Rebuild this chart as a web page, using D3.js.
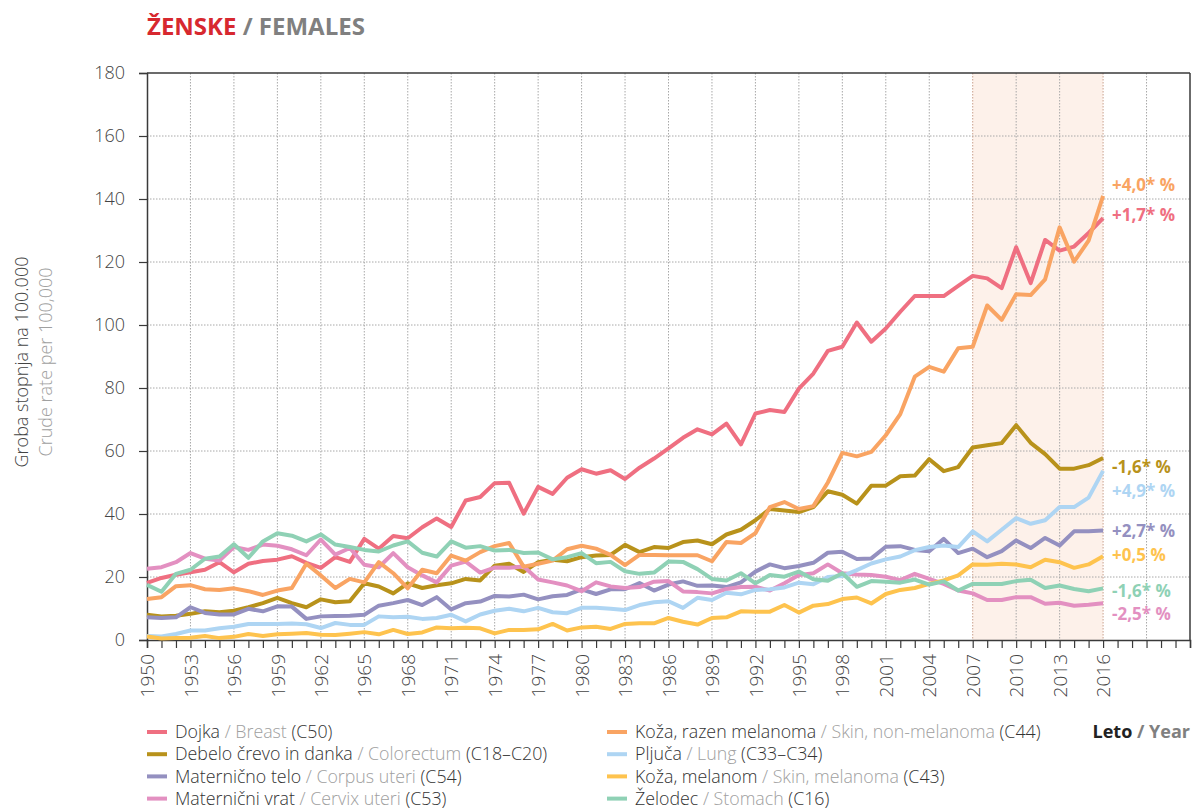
<!DOCTYPE html>
<html><head><meta charset="utf-8">
<script src="https://cdn.jsdelivr.net/npm/d3@7"></script>
<style>
body{margin:0;background:#fff;}
svg{display:block;font-family:"Open Sans","DejaVu Sans",sans-serif;}
</style></head><body>
<svg id="chart" width="1192" height="812"></svg>
<script>
// ---------------- DATA ----------------
const years = d3.range(1950, 2017);          // 1950 … 2016
const axisYears = d3.range(1950, 2023);       // tick positions on the x axis
const yearLabels = d3.range(1950, 2017, 3);   // labelled years
const yTicks = [0, 20, 40, 60, 80, 100, 120, 140, 160, 180];
const shadeFrom = 2007, shadeTo = 2016;

const breast = [18.1,19.7,20.7,21.5,22.3,24.7,21.5,24.2,25.1,25.5,26.6,24.5,22.9,26.3,24.8,32.1,29.0,33.0,32.3,35.8,38.6,35.9,44.3,45.4,49.8,
  49.9,40.1,48.6,46.4,51.5,54.2,52.8,53.9,51.1,54.7,57.6,60.8,64.2,66.9,65.3,68.7,62.1,71.9,73.0,72.4,79.8,84.6,
  91.8,93.1,100.8,94.7,98.9,104.2,109.2,109.2,109.2,112.4,115.6,114.8,111.7,124.7,113.3,127.0,123.6,124.9,129.2,133.9];
const colorectum = [8.0,7.5,7.7,8.3,9.1,8.8,9.3,10.4,11.7,13.4,11.7,10.4,12.9,12.0,12.3,18.0,17.0,14.8,18.0,16.5,17.4,18.0,19.4,18.9,23.6,
  24.2,21.6,24.7,25.5,25.0,26.3,26.8,27.0,30.2,27.9,29.5,29.2,31.1,31.6,30.4,33.5,35.0,38.0,41.6,41.1,40.6,42.2,
  47.2,46.1,43.3,49.0,49.0,52.0,52.2,57.4,53.6,54.9,61.1,61.8,62.5,68.2,62.6,59.0,54.4,54.4,55.5,57.8];
const corpus = [7.2,7.0,7.2,10.4,8.6,8.1,8.1,9.9,9.1,10.7,10.6,6.7,7.5,7.6,7.7,8.0,10.9,11.7,12.7,11.1,13.6,9.7,11.7,12.2,14.0,
  13.8,14.4,12.9,13.9,14.3,16.1,14.6,16.1,16.1,18.1,15.7,17.6,18.6,17.2,17.3,16.8,18.3,21.7,24.0,22.8,23.5,24.5,
  27.7,28.0,25.7,25.9,29.6,29.8,28.6,28.2,32.1,27.6,29.0,26.3,28.2,31.6,29.2,32.4,30.0,34.5,34.5,34.8];
const cervix = [22.6,23.1,24.7,27.6,25.8,25.2,29.5,28.6,30.3,29.9,28.8,26.9,31.9,27.1,29.2,23.9,23.1,27.6,23.1,20.5,18.3,23.6,24.9,21.4,23.0,
  22.9,23.3,19.2,18.3,17.3,15.5,18.3,17.0,16.5,16.8,18.5,18.7,15.4,15.2,14.8,16.2,16.8,16.9,15.7,18.0,20.6,21.2,
  24.0,21.2,20.8,20.6,20.1,19.0,21.0,19.4,17.8,15.7,14.8,12.7,12.7,13.6,13.6,11.5,11.8,10.9,11.2,11.7];
const skinNonMel = [13.0,13.6,17.1,17.4,16.1,15.9,16.4,15.5,14.3,15.7,16.5,24.2,20.5,16.5,19.4,18.3,24.7,21.2,16.4,22.3,21.2,26.8,25.2,27.9,29.8,
  30.8,23.3,24.2,25.2,28.8,29.9,29.0,27.0,23.8,27.0,27.0,26.9,26.9,26.9,25.0,31.1,30.8,33.9,42.2,43.8,41.6,42.5,
  50.0,59.4,58.3,59.7,65.0,71.7,83.6,86.7,85.2,92.6,93.1,106.2,101.6,109.8,109.5,114.5,131.0,120.1,126.8,141.0];
const lung = [1.3,1.1,1.9,3.0,3.0,3.7,4.2,5.1,5.1,5.1,5.2,5.0,3.8,5.4,4.8,4.8,7.5,7.2,7.4,6.7,7.0,8.0,5.9,8.1,9.3,
  9.9,9.1,10.2,8.8,8.5,10.2,10.2,9.9,9.5,11.1,12.0,12.3,10.2,13.4,12.7,15.0,14.5,15.9,16.1,16.7,18.2,17.7,
  20.0,20.3,22.2,24.3,25.6,26.5,28.5,29.5,30.0,29.5,34.5,31.3,35.0,38.7,36.9,38.0,42.2,42.2,45.2,53.7];
const melanoma = [1.1,0.5,0.6,0.7,1.3,0.6,1.0,1.9,1.3,1.8,2.0,2.2,1.7,1.6,2.0,2.5,1.8,3.2,1.9,2.4,4.0,3.7,3.9,3.7,2.1,
  3.2,3.2,3.4,5.1,3.0,4.0,4.2,3.5,5.1,5.3,5.3,7.0,5.8,4.9,7.0,7.2,9.1,9.0,9.0,11.1,8.7,10.9,
  11.4,13.0,13.5,11.6,14.6,15.9,16.5,17.8,18.9,20.5,24.0,23.9,24.2,24.0,23.1,25.5,24.7,22.9,24.0,26.6];
const stomach = [17.5,15.3,21.0,22.3,25.8,26.5,30.4,26.1,31.3,33.9,33.1,31.3,33.5,30.3,29.5,28.6,28.1,30.0,31.3,27.7,26.5,31.3,29.3,29.8,28.4,
  28.6,27.6,27.8,25.6,26.3,27.6,24.4,24.8,21.8,21.0,21.4,24.9,24.8,22.5,19.4,18.9,21.2,18.0,20.6,20.1,21.7,19.3,
  18.8,21.2,16.9,18.7,18.5,18.2,19.2,17.6,18.6,15.7,17.8,17.8,17.8,18.7,19.1,16.5,17.3,16.2,15.5,16.4];

const names_sl = ["Dojka","Debelo črevo in danka","Maternično telo","Maternični vrat",
                  "Koža, razen melanoma","Pljuča","Koža, melanom","Želodec"];
const names_en = ["Breast","Colorectum","Corpus uteri","Cervix uteri",
                  "Skin, non-melanoma","Lung","Skin, melanoma","Stomach"];
const codes = ["(C50)","(C18–C20)","(C54)","(C53)","(C44)","(C33–C34)","(C43)","(C16)"];
const trends = ["+1,7* %","-1,6* %","+2,7* %","-2,5* %","+4,0* %","+4,9* %","+0,5 %","-1,6* %"];
const values = [breast, colorectum, corpus, cervix, skinNonMel, lung, melanoma, stomach];

// ---------------- STYLE / LAYOUT ----------------
const colors = ["#ef6f81","#b8921b","#9490c0","#e390c1","#f9a463","#aed5f3","#fec34e","#8fd1b5"];
const trendLabelY = [215, 467, 531, 614, 185, 491, 555, 591];  // pixel centres of the trend labels

const svg = d3.select("#chart");
const x = d3.scaleLinear().domain([1950, 2022]).range([147, 1190]);
const y = d3.scaleLinear().domain([0, 180]).range([640, 73]);
const FONT_LIGHT = 300;

// shaded period
svg.append("rect")
  .attr("x", x(shadeFrom)).attr("y", y(180))
  .attr("width", x(shadeTo) - x(shadeFrom)).attr("height", y(0) - y(180))
  .attr("fill", "#fdf1ea");

// horizontal grid
svg.append("g").selectAll("line").data(yTicks.filter(d => d > 0 && d < 180)).join("line")
  .attr("x1", x(1950)).attr("x2", x(2022))
  .attr("y1", d => y(d)).attr("y2", d => y(d))
  .attr("stroke", "#a8a8a8").attr("stroke-width", 1).attr("stroke-dasharray", "1.5,1.5");

// vertical grid
svg.append("g").selectAll("line").data(d3.range(1953, 2022, 3)).join("line")
  .attr("x1", d => x(d)).attr("x2", d => x(d))
  .attr("y1", y(180)).attr("y2", y(0))
  .attr("stroke", d => (d === shadeFrom || d === shadeTo) ? "#c9a08c" : "#a8a8a8")
  .attr("stroke-width", 1).attr("stroke-dasharray", "1.5,1.5");

// frame (top + right)
svg.append("line").attr("x1", x(1950)).attr("x2", x(2022)).attr("y1", y(180)).attr("y2", y(180))
  .attr("stroke", "#3a3a3a").attr("stroke-width", 1.5);
svg.append("line").attr("x1", x(2022)).attr("x2", x(2022)).attr("y1", y(180)).attr("y2", y(0))
  .attr("stroke", "#3a3a3a").attr("stroke-width", 1.5);

// y axis
const yAxis = svg.append("g").attr("transform", `translate(${x(1950)},0)`)
  .call(d3.axisLeft(y).tickValues(yTicks).tickSize(8).tickPadding(14).tickFormat(d3.format("d")));
yAxis.select(".domain").attr("stroke", "#3a3a3a").attr("stroke-width", 1.5);
yAxis.selectAll(".tick line").attr("stroke", "#3a3a3a").attr("stroke-width", 1.2);
yAxis.selectAll(".tick text").attr("font-size", 18).attr("fill", "#444")
  .attr("font-family", '"Open Sans",sans-serif').attr("font-weight", FONT_LIGHT);

// x axis
const xAxis = svg.append("g").attr("transform", `translate(0,${y(0)})`)
  .call(d3.axisBottom(x).tickValues(axisYears).tickSize(8)
    .tickFormat(d => yearLabels.includes(d) ? String(d) : ""));
xAxis.select(".domain").attr("stroke", "#3a3a3a").attr("stroke-width", 1.5);
xAxis.selectAll(".tick line").attr("stroke", "#3a3a3a").attr("stroke-width", 1.2);
xAxis.selectAll(".tick text")
  .attr("font-size", 19).attr("fill", "#444")
  .attr("font-family", '"Open Sans",sans-serif').attr("font-weight", FONT_LIGHT)
  .attr("transform", "rotate(-90)")
  .attr("text-anchor", "end").attr("dy", "0.35em").attr("x", -14).attr("y", 0);

// lines
const line = d3.line().x((d, i) => x(years[i])).y(d => y(d)).curve(d3.curveLinear);
svg.append("g").selectAll("path").data(values).join("path")
  .attr("d", d => line(d))
  .attr("fill", "none")
  .attr("stroke", (d, i) => colors[i])
  .attr("stroke-width", 4)
  .attr("stroke-linejoin", "round")
  .attr("stroke-linecap", "butt");

// trend labels
svg.append("g").selectAll("text").data(trends).join("text")
  .attr("x", 1112).attr("y", (d, i) => trendLabelY[i]).attr("dy", "0.35em")
  .attr("font-size", 17).attr("font-weight", 700)
  .attr("fill", (d, i) => colors[i])
  .text(d => d);

// title
const title = svg.append("text").attr("x", 147).attr("y", 35)
  .attr("font-size", 24).attr("font-weight", 700);
title.append("tspan").attr("fill", "#d7282f").text("ŽENSKE");
title.append("tspan").attr("fill", "#808080").text(" / FEMALES");

// y axis title
const yt = svg.append("g").attr("transform", "translate(28,362) rotate(-90)");
yt.append("text").attr("text-anchor", "middle").attr("font-size", 18)
  .attr("font-weight", FONT_LIGHT).attr("fill", "#444").text("Groba stopnja na 100.000");
yt.append("text").attr("text-anchor", "middle").attr("y", 24).attr("font-size", 18)
  .attr("font-weight", FONT_LIGHT).attr("fill", "#a0a0a0").text("Crude rate per 100,000");

// legend
const legend = svg.append("g");
values.forEach((v, i) => {
  const col = Math.floor(i / 4), row = i % 4;
  const lx = col === 0 ? 147 : 607;
  const ly = 732 + row * 22.2;
  legend.append("line").attr("x1", lx).attr("x2", lx + 20).attr("y1", ly).attr("y2", ly)
    .attr("stroke", colors[i]).attr("stroke-width", 4);
  const t = legend.append("text").attr("x", lx + 28).attr("y", ly).attr("dy", "0.35em")
    .attr("font-size", 17.8).attr("font-weight", FONT_LIGHT);
  t.append("tspan").attr("fill", "#333").text(names_sl[i]);
  t.append("tspan").attr("fill", "#a0a0a0").text(" / " + names_en[i]);
  t.append("tspan").attr("fill", "#333").text(" " + codes[i]);
});

// x axis title
const xt = svg.append("text").attr("x", 1190).attr("y", 732).attr("dy", "0.35em")
  .attr("text-anchor", "end").attr("font-size", 18).attr("font-weight", 700);
xt.append("tspan").attr("fill", "#222").text("Leto");
xt.append("tspan").attr("fill", "#808080").text(" / Year");
</script>
</body></html>
